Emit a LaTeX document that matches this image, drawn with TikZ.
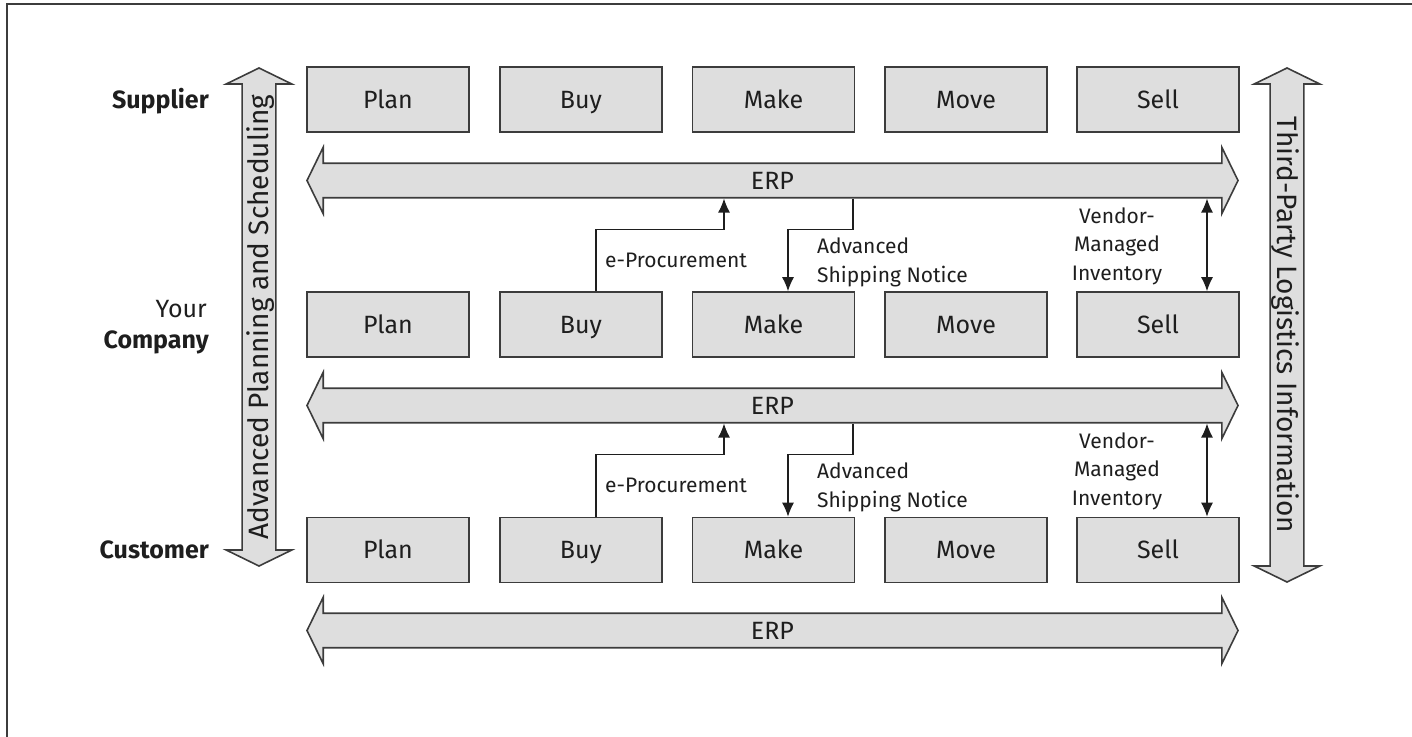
\documentclass[tikz,border=0pt]{standalone}
\usepackage{fontspec}
\setmainfont{Fira Sans}
\usetikzlibrary{shapes.arrows,arrows.meta,calc}
\definecolor{boxfill}{HTML}{DEDEDE}
\definecolor{edge}{HTML}{3C3C3C}
\definecolor{ink}{HTML}{1E1E1E}
\begin{document}
\begin{tikzpicture}[x=1pt,y=-1pt,
  box/.style={draw=edge, fill=boxfill, line width=1.6pt, minimum width=162pt, minimum height=65pt,
    inner sep=0pt, text height=17.5pt, text depth=0pt, text=ink, font=\fontsize{25}{30}\selectfont},
  bigarrow/.style={shape=double arrow, draw=edge, fill=boxfill, line width=1.6pt,
    double arrow head extend=16pt, double arrow tip angle=128, inner xsep=0pt, inner ysep=7.7pt,
    text height=17.5pt, text depth=0pt, text=ink, font=\fontsize{25}{30}\selectfont},
  vertarrow/.style={bigarrow, inner ysep=6.4pt, text height=19.3pt, font=\fontsize{28}{32}\selectfont},
  conn/.style={line width=1.2pt, draw=ink},
  tip/.style={-{Latex[length=14pt,width=12pt]}},
  lbl/.style={text=ink, font=\fontsize{21}{28.5}\selectfont, inner sep=0pt},
  rowlbl/.style={text=ink, font=\fontsize{25}{31}\selectfont, inner sep=0pt, anchor=base east, align=right}
]
\useasboundingbox (0,0) rectangle (1412,736);
\draw[draw=edge, line width=2pt] (7,740) -- (7,4) -- (1416,4);

% row labels
\node[rowlbl] (lsup) at (209,108) {\bfseries Supplier};
\node[rowlbl] (lyour) at (207,317) {Your};
\node[rowlbl] (lcomp) at (209,348) {\bfseries Company};
\node[rowlbl] (lcus) at (209,558) {\bfseries Customer};

% boxes
\foreach \r/\y in {A/99.5, B/324.5, C/550}{
  \node[box] (plan\r) at (388,\y) {Plan};
  \node[box] (buy\r)  at (581,\y) {Buy};
  \node[box] (make\r) at (773.5,\y) {Make};
  \node[box] (move\r) at (966,\y) {Move};
  \node[box] (sell\r) at (1158,\y) {Sell};
}

% ERP arrows
\node[bigarrow, minimum height=931pt] (erpA) at (772.5,180.5) {ERP};
\node[bigarrow, minimum height=931pt] (erpB) at (772.5,405.5) {ERP};
\node[bigarrow, minimum height=931pt] (erpC) at (772.5,630.5) {ERP};

% vertical arrows
\node[vertarrow, rotate=90, minimum height=498pt] (aps) at (259,317) {Advanced Planning and Scheduling};
\node[vertarrow, rotate=-90, minimum height=514pt] (tpl) at (1287,325) {Third-Party Logistics Information};

% connectors
\foreach \e/\r in {erpA/B, erpB/C}{
  \draw[conn,tip] ([xshift=15pt]buy\r.north) |- ([xshift=-48.5pt,yshift=-31pt]\e.south) -- ([xshift=-48.5pt]\e.south);
  \draw[conn,tip] ([xshift=80.5pt]\e.south) -- ([xshift=80.5pt,yshift=-31pt]\e.south) -| ([xshift=14.5pt]make\r.north);
  \coordinate (v\r) at ([xshift=49pt]sell\r.north);
  \draw[conn,{Latex[length=14pt,width=12pt]}-{Latex[length=14pt,width=12pt]}] (v\r) -- (v\r |- \e.south);
}

% labels (base anchor = baseline of last line)
\foreach \dy/\s in {0/A, 225/B}{
  \node[lbl, anchor=base] (ep\s) at (676,267+\dy) {e-Procurement};
  \node[lbl, anchor=base west, align=left] (asn\s) at (817,282+\dy) {Advanced\\Shipping Notice};
  \node[lbl, anchor=base, align=center] (vmi\s) at (1117,280+\dy) {Vendor-\\Managed\\Inventory};
}
\end{tikzpicture}
\end{document}
